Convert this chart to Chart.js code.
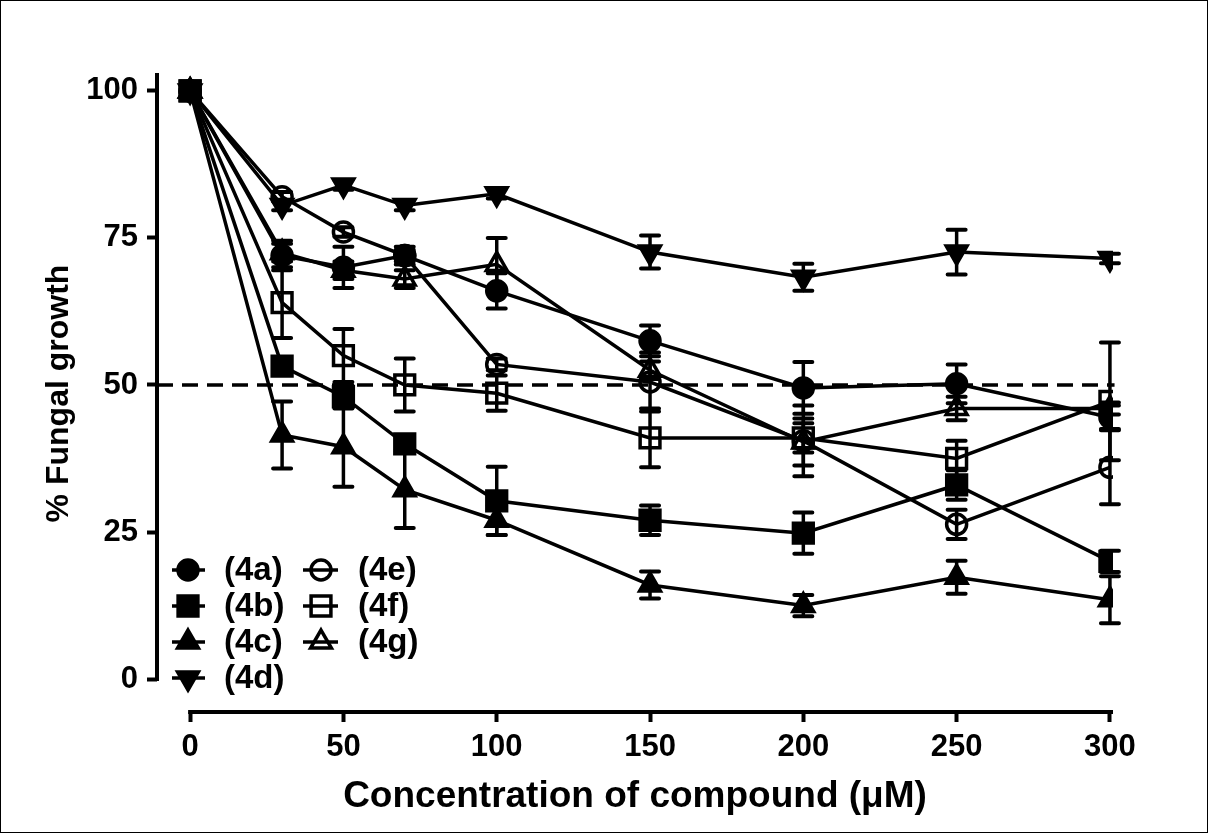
<!DOCTYPE html>
<html>
<head>
<meta charset="utf-8">
<script src="https://cdn.jsdelivr.net/npm/chart.js"></script>
<style>
  html, body { margin: 0; padding: 0; background: #fff; }
  #wrap { width: 1208px; height: 833px; position: relative; }
</style>
</head>
<body>
<div id="wrap"><canvas id="growth-chart"></canvas></div>
<script>
// Concentrations (uM) and % fungal growth for each compound
const concentrations = [0, 30, 50, 70, 100, 150, 200, 250, 300];

const growth4a = [100, 72, 70, 72, 66, 57.5, 49.5, 50.2, 44.5];
const error4a  = [0, 2.5, 3.5, 1.5, 3, 2.6, 4.4, 3.3, 2];
const growth4b = [100, 53.2, 48, 40, 30.3, 27, 24.8, 33, 20];
const error4b  = [0, 1, 2, 1, 5.8, 2.5, 3.5, 2.5, 1.8];
const growth4c = [100, 41.5, 39.5, 32.2, 27, 16, 12.5, 17.3, 13.5];
const error4c  = [0, 5.7, 6.8, 6.5, 2.5, 2.3, 1.8, 2.8, 4];
const growth4d = [100, 80.5, 84, 80.5, 82.5, 72.6, 68.3, 72.6, 71.5];
const error4d  = [0, 0.8, 0.8, 0.8, 0.8, 2.8, 2.3, 3.8, 0.8];
const growth4e = [100, 82, 76, 72, 53.5, 50.5, 40.5, 26.3, 36];
const error4e  = [0, 0.8, 0.8, 1, 1, 5, 6, 2.5, 6.3];
const growth4f = [100, 64, 55, 50, 48.6, 41, 41, 37.5, 47.2];
const error4f  = [0, 6, 4.5, 4.5, 3, 5, 2.5, 3, 10];
const growth4g = [100, 72.5, 69.5, 68, 70.5, 52.5, 40.3, 46, 46];
const error4g  = [0, 1.5, 1.5, 1.5, 4.5, 1.5, 4, 2, 1];

const seriesLabels = ['(4a)', '(4b)', '(4c)', '(4d)', '(4e)', '(4f)', '(4g)'];
const xTicks = [0, 50, 100, 150, 200, 250, 300];
const yTicks = [0, 25, 50, 75, 100];
const halfLine = 50;

const xTitle = 'Concentration of compound (\u03bcM)';
const yTitle = '% Fungal growth';

const FONT = 'Arial, "Liberation Sans", Helvetica, sans-serif';

// marker look per series
const markers = [
    { style: 'circle',   radius: 10, fill: true,  rot: 0 },
    { style: 'rect',     radius: 14, fill: true,  rot: 0 },
    { style: 'triangle', radius: 12, fill: true,  rot: 0 },
    { style: 'triangle', radius: 12, fill: true,  rot: 180 },
    { style: 'circle',   radius: 10, fill: false, rot: 0 },
    { style: 'rect',     radius: 14, fill: false, rot: 0 },
    { style: 'triangle', radius: 12, fill: false, rot: 0 }
];

const allGrowth = [growth4a, growth4b, growth4c, growth4d, growth4e, growth4f, growth4g];
const allErrors = [error4a, error4b, error4c, error4d, error4e, error4f, error4g];

function toPoints(values) {
    return concentrations.map((c, i) => ({ x: c, y: values[i] }));
}

const datasets = allGrowth.map((values, i) => ({
    label: seriesLabels[i],
    data: toPoints(values),
    errors: allErrors[i],
    borderColor: '#000',
    backgroundColor: markers[i].fill ? '#000' : 'rgba(0,0,0,0)',
    borderWidth: 3.5,
    pointStyle: markers[i].style,
    pointRadius: markers[i].radius,
    pointRotation: markers[i].rot,
    pointBorderWidth: 3.5,
    pointBackgroundColor: markers[i].fill ? '#000' : 'rgba(0,0,0,0)',
    pointBorderColor: '#000',
    tension: 0,
    fill: false
}));

// hand drawn marker for the legend (same shapes as chart points)
function drawMarker(ctx, m, x, y) {
    ctx.save();
    ctx.beginPath();
    if (m.style === 'circle') {
        ctx.arc(x, y, m.radius, 0, Math.PI * 2);
    } else if (m.style === 'rect') {
        const s = Math.SQRT1_2 * m.radius;
        ctx.rect(x - s, y - s, 2 * s, 2 * s);
    } else {
        const dir = m.rot === 180 ? -1 : 1;
        const r = m.radius;
        ctx.moveTo(x, y - dir * r);
        ctx.lineTo(x + r * Math.sin(2 * Math.PI / 3), y + dir * r / 2);
        ctx.lineTo(x - r * Math.sin(2 * Math.PI / 3), y + dir * r / 2);
        ctx.closePath();
    }
    ctx.lineWidth = 3.5;
    ctx.strokeStyle = '#000';
    if (m.fill) {
        ctx.fillStyle = '#000';
        ctx.fill();
    }
    ctx.stroke();
    ctx.restore();
}

// axes, 50% line, error bars, legend, frame
const prismLook = {
    id: 'prismLook',
    beforeDatasetsDraw(chart) {
        const ctx = chart.ctx;
        const xs = chart.scales.x, ys = chart.scales.y;
        ctx.save();
        ctx.strokeStyle = '#000';
        ctx.lineCap = 'butt';

        // dashed 50% line
        ctx.lineWidth = 3.5;
        ctx.setLineDash([16, 9]);
        ctx.beginPath();
        ctx.moveTo(chart.chartArea.left, ys.getPixelForValue(halfLine));
        ctx.lineTo(xs.getPixelForValue(301.5), ys.getPixelForValue(halfLine));
        ctx.stroke();
        ctx.setLineDash([]);

        // error bars
        chart.data.datasets.forEach(ds => {
            ds.data.forEach((p, i) => {
                const e = ds.errors[i];
                if (!e) return;
                const px = xs.getPixelForValue(p.x);
                const top = ys.getPixelForValue(p.y + e);
                const bot = ys.getPixelForValue(p.y - e);
                ctx.lineWidth = 3.5;
                ctx.beginPath();
                ctx.moveTo(px, top);
                ctx.lineTo(px, bot);
                ctx.stroke();
                ctx.lineWidth = 4;
                ctx.lineCap = 'round';
                ctx.beginPath();
                ctx.moveTo(px - 9, top);
                ctx.lineTo(px + 9, top);
                ctx.moveTo(px - 9, bot);
                ctx.lineTo(px + 9, bot);
                ctx.stroke();
                ctx.lineCap = 'butt';
            });
        });
        ctx.restore();
    },
    afterDraw(chart) {
        const ctx = chart.ctx;
        const xs = chart.scales.x, ys = chart.scales.y;
        const area = chart.chartArea;
        ctx.save();
        ctx.strokeStyle = '#000';
        ctx.lineWidth = 4;

        // y axis line, only from 0 up to the top
        ctx.beginPath();
        ctx.moveTo(area.left, area.top - 2);
        ctx.lineTo(area.left, ys.getPixelForValue(0) + 2);
        ctx.stroke();

        // detached x axis line from 0 to 300
        ctx.beginPath();
        ctx.moveTo(xs.getPixelForValue(0) - 2, area.bottom);
        ctx.lineTo(xs.getPixelForValue(301), area.bottom);
        ctx.stroke();

        // legend, two columns in the lower left corner
        const cols = [{ lineFrom: 172, lineTo: 205, mark: 188, text: 224 },
                      { lineFrom: 303, lineTo: 338, mark: 321, text: 358 }];
        const rowY = [570, 606, 642, 678];
        ctx.font = 'bold 33px ' + FONT;
        ctx.textBaseline = 'middle';
        ctx.textAlign = 'left';
        ctx.fillStyle = '#000';
        seriesLabels.forEach((lab, i) => {
            const col = cols[i < 4 ? 0 : 1];
            const y = rowY[i < 4 ? i : i - 4];
            ctx.lineWidth = 3.5;
            ctx.beginPath();
            ctx.moveTo(col.lineFrom, y);
            ctx.lineTo(col.lineTo, y);
            ctx.stroke();
            drawMarker(ctx, markers[i], col.mark, y);
            ctx.fillText(lab, col.text, y + 1);
        });

        // thin frame round the picture
        ctx.lineWidth = 1;
        ctx.strokeRect(0.5, 0.5, chart.width - 1, chart.height - 1);
        ctx.restore();
    }
};

new Chart(document.getElementById('growth-chart'), {
    type: 'line',
    data: { datasets: datasets },
    options: {
        responsive: true,
        maintainAspectRatio: false,
        animation: false,
        layout: { padding: { top: 75, right: 95, left: 0, bottom: 0 } },
        plugins: {
            legend: { display: false },
            tooltip: { enabled: false }
        },
        scales: {
            x: {
                type: 'linear',
                min: -10.8,
                max: 301,
                afterFit: s => { s.height = 121; },
                afterBuildTicks: s => { s.ticks = xTicks.map(v => ({ value: v })); },
                border: { display: false },
                grid: { drawOnChartArea: false, drawTicks: true, tickLength: 10, tickWidth: 4, tickColor: '#000' },
                ticks: { color: '#000', padding: 7, font: { family: FONT, size: 31, weight: 'bold' }, maxRotation: 0 },
                title: { display: true, text: xTitle, color: '#000', padding: { bottom: 14 }, font: { family: FONT, size: 37, weight: 'bold' } }
            },
            y: {
                type: 'linear',
                min: -5.6,
                max: 102.7,
                afterFit: s => { s.width = 157; },
                afterBuildTicks: s => { s.ticks = yTicks.map(v => ({ value: v })); },
                border: { display: false },
                grid: { drawOnChartArea: false, drawTicks: true, tickLength: 10, tickWidth: 4, tickColor: '#000' },
                ticks: { color: '#000', padding: 9, font: { family: FONT, size: 31, weight: 'bold' } },
                title: { display: true, text: yTitle, color: '#000', padding: { top: 40 }, font: { family: FONT, size: 32, weight: 'bold' } }
            }
        }
    },
    plugins: [prismLook]
});
</script>
</body>
</html>
